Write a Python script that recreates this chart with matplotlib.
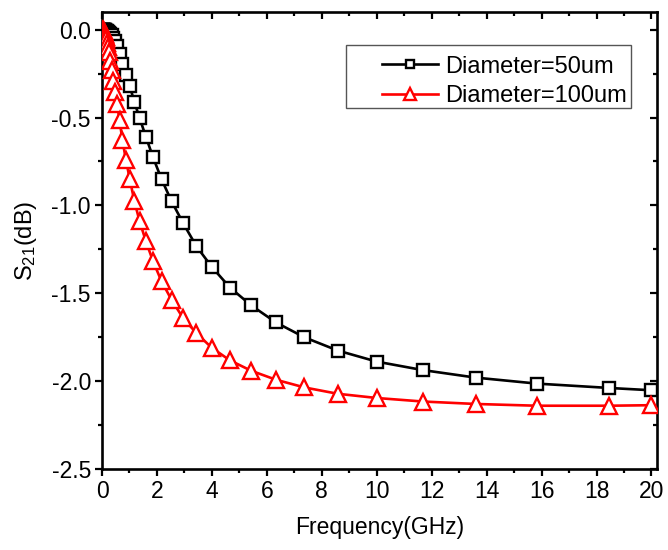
import matplotlib
matplotlib.use('Agg')
import matplotlib.pyplot as plt
from matplotlib.patches import Rectangle
from matplotlib.ticker import MultipleLocator

plt.rcParams['font.family'] = ['Liberation Sans', 'DejaVu Sans']
plt.rcParams['mathtext.default'] = 'regular'

# ---- data ----
freq_ghz = [0.03, 0.034, 0.04, 0.047, 0.054, 0.063, 0.074, 0.086, 0.10, 0.12,
            0.14, 0.16, 0.19, 0.22, 0.25, 0.30, 0.35, 0.40, 0.47, 0.55,
            0.64, 0.74, 0.87, 1.01, 1.18, 1.37, 1.60, 1.86, 2.17, 2.53,
            2.95, 3.43, 4.00, 4.66, 5.43, 6.33, 7.37, 8.58, 10.0, 11.67,
            13.60, 15.82, 18.47, 20.0]

s21_d50 = [-0.0005, -0.0006, -0.0008, -0.001, -0.0013, -0.0017, -0.002, -0.0025, -0.003, -0.004,
           -0.005, -0.007, -0.010, -0.014, -0.018, -0.025, -0.033, -0.045, -0.065, -0.095,
           -0.140, -0.195, -0.256, -0.320, -0.413, -0.503, -0.611, -0.727, -0.852, -0.976,
           -1.100, -1.231, -1.351, -1.468, -1.569, -1.666, -1.751, -1.826, -1.889, -1.937,
           -1.980, -2.014, -2.039, -2.052]

s21_d100 = [-0.003, -0.004, -0.005, -0.006, -0.008, -0.010, -0.013, -0.017, -0.022, -0.030,
            -0.040, -0.055, -0.075, -0.100, -0.128, -0.178, -0.232, -0.292, -0.355, -0.425,
            -0.516, -0.626, -0.740, -0.850, -0.977, -1.091, -1.205, -1.319, -1.433, -1.537,
            -1.641, -1.726, -1.811, -1.882, -1.941, -1.992, -2.036, -2.072, -2.096, -2.116,
            -2.130, -2.140, -2.140, -2.137]

labels = ['Diameter=50um', 'Diameter=100um']

# ---- figure ----
fig = plt.figure(figsize=(6.68, 5.5), dpi=100)
ax = fig.add_axes([0.1527, 0.1473, 0.8308, 0.8307])

ax.plot(freq_ghz, s21_d50, color='black', lw=1.9, marker='s', ms=8.5,
        mfc='white', mec='black', mew=1.7, label=labels[0], zorder=3)
ax.plot(freq_ghz, s21_d100, color='#ff0000', lw=1.9, marker='^', ms=11,
        mfc='white', mec='#ff0000', mew=1.7, label=labels[1], zorder=3)

ax.set_xlim(0, 20.2)
ax.set_ylim(-2.5, 0.1)
ax.xaxis.set_major_locator(MultipleLocator(2))
ax.xaxis.set_minor_locator(MultipleLocator(1))
ax.yaxis.set_major_locator(MultipleLocator(0.5))
ax.yaxis.set_minor_locator(MultipleLocator(0.25))
ax.yaxis.set_major_formatter(plt.FuncFormatter(lambda v, p: f'{v:.1f}'))

for s in ax.spines.values():
    s.set_linewidth(1.9)

ax.tick_params(which='both', bottom=True, left=True, direction='out', width=1.6, labelsize=16.5)
ax.tick_params(which='major', length=5, pad=3)
ax.tick_params(which='minor', length=3)
# mirrored ticks on top / right point inward
ax.tick_params(which='both', top=True, right=True, labeltop=False, labelright=False)
for t in ax.xaxis.get_major_ticks() + ax.xaxis.get_minor_ticks():
    t.tick2line.set_marker(3)
for t in ax.yaxis.get_major_ticks() + ax.yaxis.get_minor_ticks():
    t.tick2line.set_marker(0)

ax.set_xlabel('Frequency(GHz)', fontsize=16.5, labelpad=9)
ax.set_ylabel('S$_{21}$(dB)', fontsize=17, labelpad=9)

# legend: frame drawn separately so the entries sit further right, as in the original
ax.add_patch(Rectangle((0.4396, 0.790), 0.513, 0.138, transform=ax.transAxes,
                       fill=False, edgecolor='#555555', lw=1.0, zorder=4))
ax.legend(loc='upper left', bbox_to_anchor=(0.5045, 0.905), frameon=False,
          fontsize=17, handlelength=2.37, handletextpad=0.3, labelspacing=0.32,
          borderpad=0, borderaxespad=0, markerscale=0.75)

fig.savefig('out.png', dpi=100, facecolor='white')
